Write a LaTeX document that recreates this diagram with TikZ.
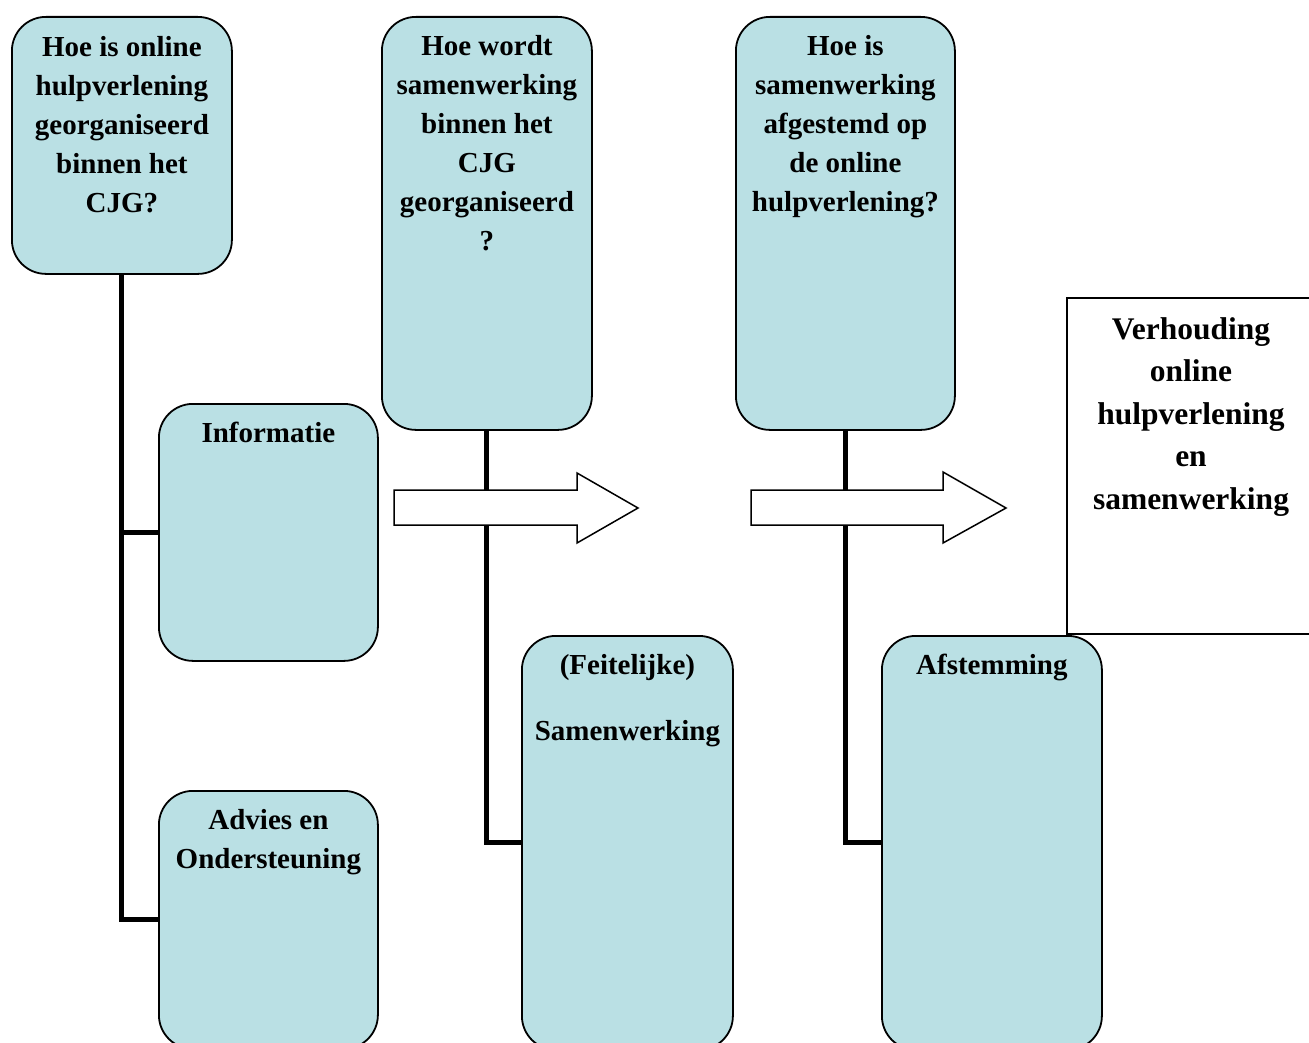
\documentclass[tikz,border=0pt]{standalone}
\usepackage{fontspec}
\setmainfont{Liberation Serif}
\usetikzlibrary{backgrounds}
\definecolor{boxblue}{RGB}{186,224,228}
\tikzset{
  x=1pt, y=-1pt,
  rbox/.style={draw=black, line width=1.8pt, fill=boxblue, rounded corners=34pt, anchor=north west, inner sep=0pt},
  txt/.style={anchor=north, inner sep=0pt, align=center, font=\bfseries\fontsize{29}{39}\selectfont},
  bigtxt/.style={anchor=north, inner sep=0pt, align=center, font=\bfseries\fontsize{31.5}{42.5}\selectfont},
  conn/.style={draw=black, line width=5pt},
  blockarrow/.style={draw=black, line width=1.5pt, fill=white, line join=miter}
}
\begin{document}
\begin{tikzpicture}
\useasboundingbox (0,0) rectangle (1309,1043);
% right summary box
\node[draw=black, line width=1.8pt, fill=white, anchor=north west, minimum width=250pt, minimum height=336pt, inner sep=0pt] (R) at (1066,297) {};
\node[bigtxt] (tR) at (1191,317) {Verhouding\\online\\hulpverlening\\en\\samenwerking};
% boxes
\node[rbox, minimum width=220pt, minimum height=257pt] (A) at (11,16) {};
\node[rbox, minimum width=210pt, minimum height=413pt] (B) at (381,16) {};
\node[rbox, minimum width=219pt, minimum height=413pt] (C) at (735,16) {};
\node[rbox, minimum width=219pt, minimum height=257pt] (I) at (158,403) {};
\node[rbox, minimum width=219pt, minimum height=258pt] (D) at (158,790) {};
\node[rbox, minimum width=211pt, minimum height=414pt] (F) at (521,635) {};
\node[rbox, minimum width=220pt, minimum height=414pt] (G) at (881,635) {};
% connectors behind the boxes
\begin{scope}[on background layer]
\draw[conn] (A.south) |- (I.west);
\draw[conn] (A.south) |- (D.west);
\draw[conn] (B.south) |- (F.west);
\draw[conn] (C.south) |- (G.west);
\end{scope}
% texts
\node[txt] (tA) at ([yshift=-20pt]A.north) {Hoe is online\\hulpverlening\\georganiseerd\\binnen het\\CJG?};
\node[txt] (tB) at ([yshift=-19pt]B.north) {Hoe wordt\\samenwerking\\binnen het\\CJG\\georganiseerd\\?};
\node[txt] (tC) at ([yshift=-19pt]C.north) {Hoe is\\samenwerking\\afgestemd op\\de online\\hulpverlening?};
\node[txt] (tI) at ([yshift=-19pt]I.north) {Informatie};
\node[txt] (tD) at ([yshift=-19pt]D.north) {Advies en\\Ondersteuning};
\node[txt] (tF) at ([yshift=-19pt]F.north) {(Feitelijke)\\[27pt]Samenwerking};
\node[txt] (tG) at ([yshift=-19pt]G.north) {Afstemming};
% block arrows
\draw[blockarrow] (394,490) -- (577,490) -- (577,473) -- (638,508) -- (577,543) -- (577,525) -- (394,525) -- cycle;
\draw[blockarrow] (751,490) -- (943,490) -- (943,472) -- (1006,508) -- (943,543) -- (943,525) -- (751,525) -- cycle;
\end{tikzpicture}
\end{document}
